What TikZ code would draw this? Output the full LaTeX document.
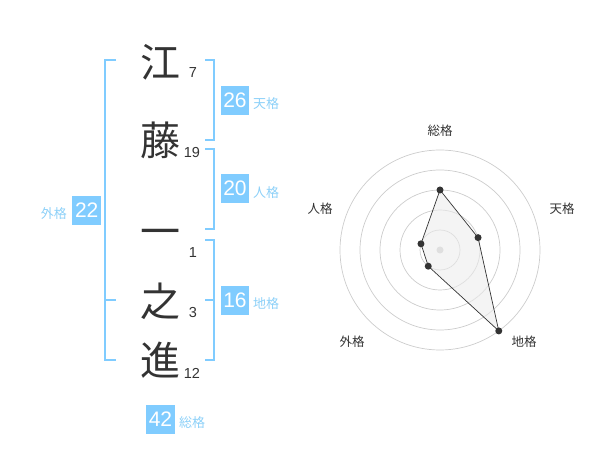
\documentclass[tikz,border=0pt]{standalone}
\usepackage{fontspec}
\setmainfont{Liberation Sans}
\newfontfamily\cjk{Noto Sans CJK JP}
\definecolor{boxblue}{HTML}{80CCFF}
\definecolor{lblblue}{HTML}{8CD0F8}
\definecolor{ink}{HTML}{333333}
\definecolor{ringgray}{HTML}{CCCCCC}
\begin{document}
\begin{tikzpicture}[x=1pt,y=-1pt,
  kanji/.style={font=\cjk\fontsize{40}{40}\selectfont, text=ink, inner sep=0pt},
  strokes/.style={font=\fontsize{14.5}{14.5}\selectfont, text=ink, inner sep=0pt},
  scorebox/.style={fill=boxblue, text=white, font=\fontsize{21}{21}\selectfont, minimum width=28.5pt, minimum height=29pt, inner sep=0pt},
  scorelbl/.style={font=\cjk\fontsize{13}{13}\selectfont, text=lblblue, inner sep=0pt},
  brk/.style={draw=boxblue, line width=2pt},
  ring/.style={draw=ringgray, line width=0.7pt},
  axislbl/.style={font=\cjk\fontsize{12.5}{12.5}\selectfont, text=ink, inner sep=0pt},
  pt/.style={circle, fill=ink, inner sep=0pt, minimum size=7pt}
]
\useasboundingbox (0,0) rectangle (600,470);
% characters
\node[kanji] (c1) at (160,62) {江};
\node[kanji] (c2) at (160,140) {藤};
\node[kanji] (c3) at (160,238) {一};
\node[kanji] (c4) at (160,301) {之};
\node[kanji] (c5) at (160,360) {進};
\node[strokes] (n1) at (193,73) {7};
\node[strokes] (n2) at (192,153) {19};
\node[strokes] (n3) at (193,253) {1};
\node[strokes] (n4) at (193,313) {3};
\node[strokes] (n5) at (192,373) {12};
% brackets
\coordinate (lt) at (116,60);
\coordinate (lb) at (116,360);
\coordinate (lm) at (116,300);
\draw[brk] (lt) -| (105,360) -- (lb);
\draw[brk] (105,300) -- (lm);
\draw[brk] (205,60) -| (214,140) -- (205,140);
\draw[brk] (205,149) -| (214,229) -- (205,229);
\draw[brk] (205,240) -| (214,360) -- (205,360);
\draw[brk] (205,300) -- (214,300);
% scores
\node[scorebox] (s26) at (235,100.5) {26};
\node[scorelbl, anchor=west] (l26) at (253,104) {天格};
\node[scorebox] (s20) at (235,188.5) {20};
\node[scorelbl, anchor=west] (l20) at (253,193) {人格};
\node[scorebox] (s16) at (235,300.5) {16};
\node[scorelbl, anchor=west] (l16) at (253,304) {地格};
\node[scorebox] (s22) at (86.7,210.5) {22};
\node[scorelbl, anchor=east] (l22) at (67,214) {外格};
\node[scorebox] (s42) at (160.5,419) {42};
\node[scorelbl, anchor=west] (l42) at (179,423) {総格};
% radar
\coordinate (o) at (440,250);
\foreach \r in {20,40,60,80,100} \draw[ring] (o) circle[radius=\r];
\fill[ringgray] (o) circle[radius=3.5];
\path (o) ++(0,-60) coordinate (pA);
\path (o) ++({40*cos(18)},{-40*sin(18)}) coordinate (pB);
\path (o) ++({100*cos(-54)},{-100*sin(-54)}) coordinate (pC);
\path (o) ++({20*cos(234)},{-20*sin(234)}) coordinate (pD);
\path (o) ++({20*cos(162)},{-20*sin(162)}) coordinate (pE);
\draw[ink, line width=0.7pt, fill=gray!15, fill opacity=0.6] (pA) -- (pB) -- (pC) -- (pD) -- (pE) -- cycle;
\foreach \p in {pA,pB,pC,pD,pE} \node[pt] at (\p) {};
\node[axislbl] (aA) at (440,130.5) {総格};
\node[axislbl] (aB) at (562,208.5) {天格};
\node[axislbl] (aC) at (524,341.5) {地格};
\node[axislbl] (aD) at (352,341.5) {外格};
\node[axislbl] (aE) at (320,209) {人格};
\end{tikzpicture}
\end{document}
